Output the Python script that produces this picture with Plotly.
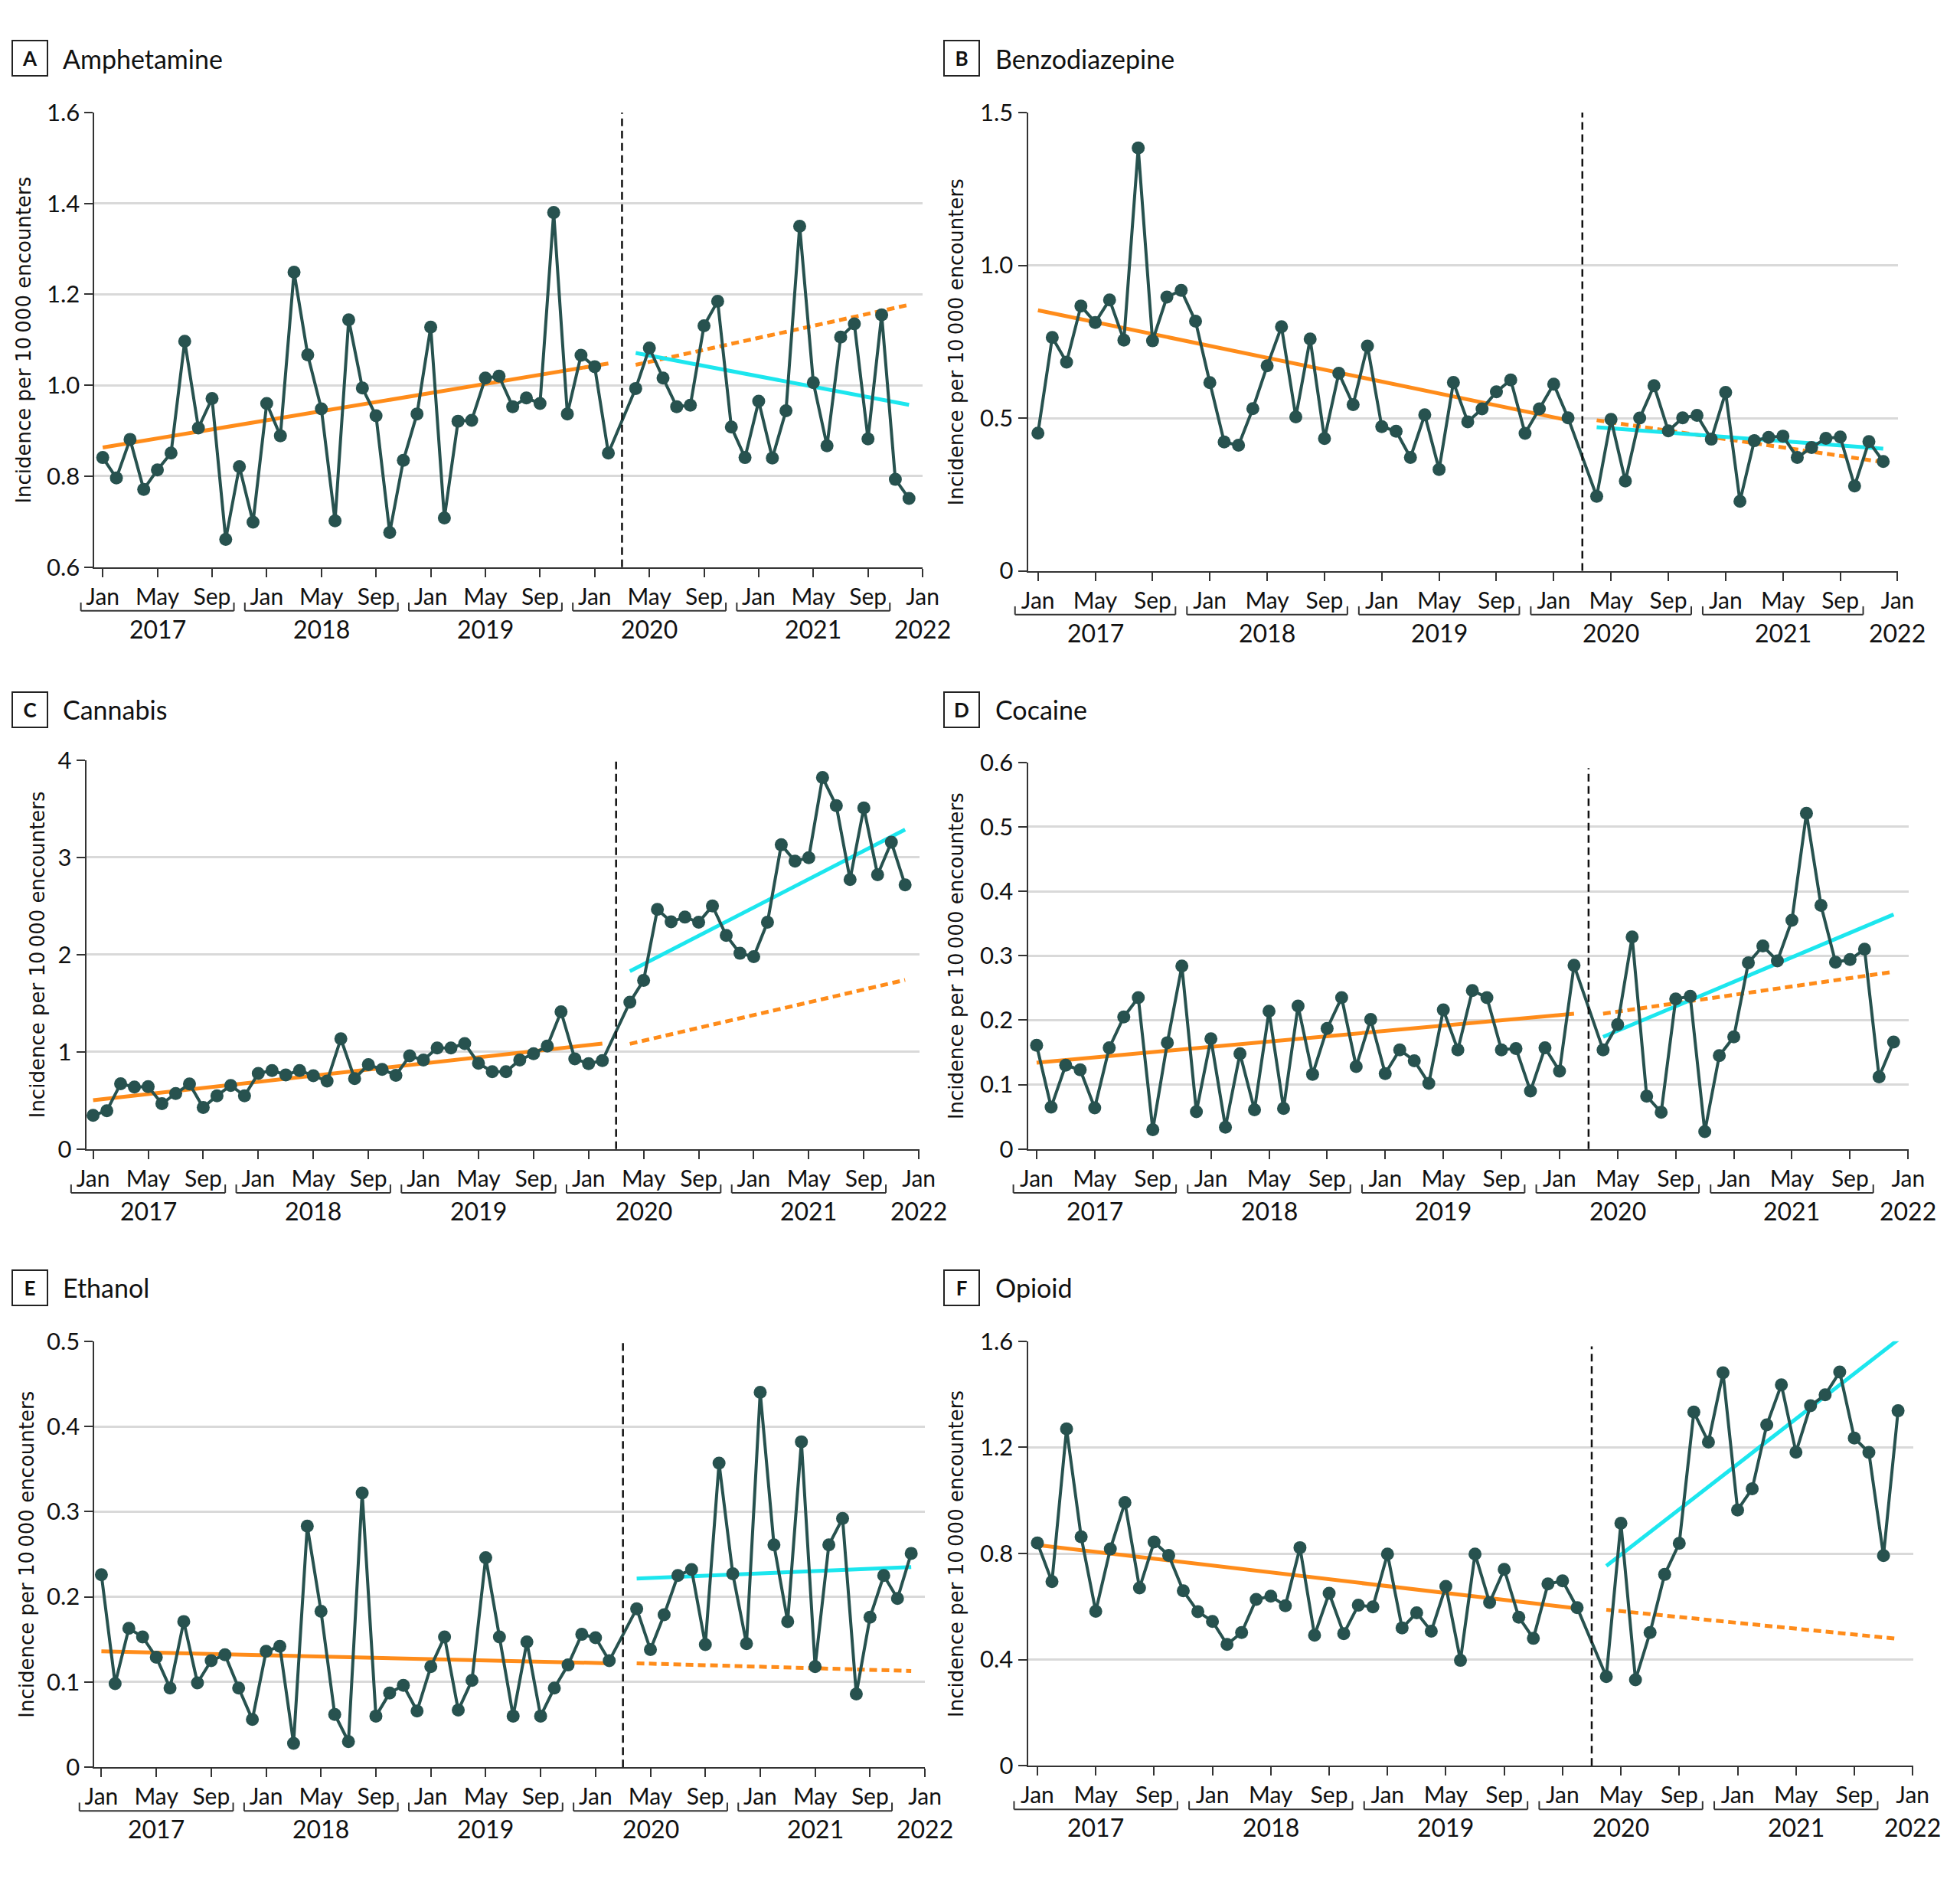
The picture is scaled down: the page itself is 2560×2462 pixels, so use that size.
import plotly.graph_objects as go
from plotly.subplots import make_subplots

# month index 0 = Jan 2017 ... 59 = Dec 2021; March 2020 (38) left out
months = list(range(60))
tick_vals = list(range(0, 61, 4))
tick_text = ["Jan", "May", "Sep"] * 5 + ["Jan"]
years = ["2017", "2018", "2019", "2020", "2021"]

amphetamine = [0.841, 0.796, 0.881, 0.771, 0.814, 0.851, 1.097, 0.906, 0.971, 0.661, 0.821, 0.699,
               0.960, 0.889, 1.249, 1.067, 0.948, 0.702, 1.144, 0.994, 0.933, 0.676, 0.835, 0.937,
               1.128, 0.708, 0.921, 0.923, 1.016, 1.020, 0.953, 0.972, 0.960, 1.380, 0.937, 1.066,
               1.041, 0.851, None, 0.993, 1.082, 1.016, 0.953, 0.956, 1.131, 1.185, 0.908, 0.841,
               0.965, 0.840, 0.944, 1.350, 1.006, 0.867, 1.106, 1.135, 0.882, 1.155, 0.793, 0.751]
benzodiazepine = [0.451, 0.764, 0.683, 0.867, 0.813, 0.887, 0.755, 1.384, 0.753, 0.896, 0.918, 0.817,
                  0.616, 0.422, 0.411, 0.531, 0.671, 0.799, 0.504, 0.759, 0.433, 0.647, 0.544, 0.736,
                  0.472, 0.457, 0.371, 0.511, 0.332, 0.617, 0.488, 0.530, 0.586, 0.625, 0.450, 0.530,
                  0.611, 0.501, None, 0.244, 0.496, 0.294, 0.500, 0.606, 0.458, 0.501, 0.509, 0.431,
                  0.584, 0.228, 0.426, 0.437, 0.441, 0.371, 0.404, 0.434, 0.438, 0.278, 0.423, 0.358]
cannabis = [0.346, 0.394, 0.672, 0.638, 0.642, 0.466, 0.571, 0.669, 0.428, 0.548, 0.654, 0.548,
            0.777, 0.808, 0.762, 0.808, 0.755, 0.699, 1.134, 0.725, 0.868, 0.819, 0.759, 0.958,
            0.916, 1.040, 1.040, 1.085, 0.883, 0.796, 0.796, 0.916, 0.980, 1.059, 1.412, 0.928,
            0.879, 0.909, None, 1.510, 1.735, 2.464, 2.336, 2.385, 2.332, 2.501, 2.197, 2.013,
            1.979, 2.332, 3.129, 2.960, 2.997, 3.820, 3.531, 2.772, 3.508, 2.821, 3.155, 2.716]
cocaine = [0.161, 0.065, 0.130, 0.123, 0.064, 0.157, 0.205, 0.235, 0.030, 0.165, 0.284, 0.058,
           0.171, 0.034, 0.148, 0.061, 0.214, 0.063, 0.222, 0.116, 0.187, 0.235, 0.128, 0.201,
           0.117, 0.154, 0.137, 0.102, 0.216, 0.154, 0.246, 0.235, 0.154, 0.156, 0.090, 0.157,
           0.121, 0.285, None, 0.154, 0.193, 0.329, 0.082, 0.057, 0.233, 0.237, 0.027, 0.145,
           0.174, 0.289, 0.315, 0.292, 0.355, 0.521, 0.378, 0.290, 0.294, 0.310, 0.112, 0.166]
ethanol = [0.226, 0.098, 0.163, 0.153, 0.129, 0.093, 0.171, 0.099, 0.125, 0.132, 0.093, 0.056,
           0.136, 0.142, 0.028, 0.283, 0.183, 0.062, 0.030, 0.322, 0.060, 0.087, 0.096, 0.066,
           0.118, 0.153, 0.067, 0.102, 0.246, 0.153, 0.060, 0.147, 0.060, 0.093, 0.120, 0.156,
           0.152, 0.125, None, 0.186, 0.138, 0.179, 0.225, 0.232, 0.144, 0.357, 0.227, 0.145,
           0.440, 0.261, 0.171, 0.382, 0.118, 0.261, 0.292, 0.086, 0.176, 0.225, 0.198, 0.251]
opioid = [0.840, 0.694, 1.270, 0.863, 0.582, 0.817, 0.992, 0.670, 0.843, 0.793, 0.659, 0.581,
          0.544, 0.457, 0.502, 0.627, 0.639, 0.603, 0.822, 0.492, 0.650, 0.498, 0.605, 0.599,
          0.798, 0.519, 0.576, 0.507, 0.676, 0.397, 0.798, 0.615, 0.740, 0.560, 0.480, 0.685,
          0.697, 0.596, None, 0.336, 0.914, 0.324, 0.502, 0.721, 0.838, 1.333, 1.220, 1.481,
          0.964, 1.044, 1.285, 1.436, 1.182, 1.357, 1.398, 1.484, 1.235, 1.181, 0.792, 1.338]

# fitted segments: value at start and end month
pre_months = [0, 37]
post_months = [39, 59]
amph_pre, amph_cf, amph_post = [0.863, 1.048], [1.045, 1.177], [1.071, 0.957]
benz_pre, benz_cf, benz_post = [0.853, 0.493], [0.493, 0.356], [0.470, 0.400]
cann_pre, cann_cf, cann_post = [0.503, 1.085], [1.082, 1.739], [1.829, 3.286]
coca_pre, coca_cf, coca_post = [0.134, 0.210], [0.210, 0.275], [0.174, 0.364]
etha_pre, etha_cf, etha_post = [0.136, 0.122], [0.122, 0.113], [0.2215, 0.235]
opio_pre, opio_cf, opio_post = [0.832, 0.593], [0.588, 0.478], [0.753, 1.606]

W, H = 2560, 2462
DATA_C = "#27524f"
ORANGE = "#ff8c1a"
CYAN = "#1ce6ee"
FONT = "Lato"

panels = [
    dict(letter="A", name="Amphetamine", y=amphetamine, pre=amph_pre, cf=amph_cf, post=amph_post,
         yrange=[0.6, 1.6], yt=[0.6, 0.8, 1.0, 1.2, 1.4, 1.6], ytt=["0.6", "0.8", "1.0", "1.2", "1.4", "1.6"],
         box=(112, 1209, 129, 732), x0=-0.6, head=(2, 68, 57), ytitle_x=18, vtop=1),
    dict(letter="B", name="Benzodiazepine", y=benzodiazepine, pre=benz_pre, cf=benz_cf, post=benz_post,
         yrange=[0, 1.5], yt=[0, 0.5, 1.0, 1.5], ytt=["0", "0.5", "1.0", "1.5"],
         box=(1348, 2500, 129, 737), x0=-0.7, head=(1236, 1303, 57), ytitle_x=1253, vtop=1),
    dict(letter="C", name="Cannabis", y=cannabis, pre=cann_pre, cf=cann_cf, post=cann_post,
         yrange=[0, 4], yt=[0, 1, 2, 3, 4], ytt=["0", "1", "2", "3", "4"],
         box=(101, 1204, 988, 1504), x0=-0.5, head=(2, 68, 921), ytitle_x=36, vtop=1),
    dict(letter="D", name="Cocaine", y=cocaine, pre=coca_pre, cf=coca_cf, post=coca_post,
         yrange=[0, 0.6], yt=[0, 0.1, 0.2, 0.3, 0.4, 0.5, 0.6],
         ytt=["0", "0.1", "0.2", "0.3", "0.4", "0.5", "0.6"],
         box=(1348, 2514, 991, 1504), x0=-0.6, head=(1236, 1303, 921), ytitle_x=1253, vtop=0.985),
    dict(letter="E", name="Ethanol", y=ethanol, pre=etha_pre, cf=etha_cf, post=etha_post,
         yrange=[0, 0.5], yt=[0, 0.1, 0.2, 0.3, 0.4, 0.5], ytt=["0", "0.1", "0.2", "0.3", "0.4", "0.5"],
         box=(112, 1212, 1759, 2324), x0=-0.5, head=(2, 68, 1688), ytitle_x=22, vtop=1),
    dict(letter="F", name="Opioid", y=opioid, pre=opio_pre, cf=opio_cf, post=opio_post,
         yrange=[0, 1.6], yt=[0, 0.4, 0.8, 1.2, 1.6], ytt=["0", "0.4", "0.8", "1.2", "1.6"],
         box=(1348, 2520, 1759, 2322), x0=-0.65, head=(1236, 1303, 1688), ytitle_x=1253, vtop=0.988),
]

fig = make_subplots(rows=3, cols=2)
shapes = []
annotations = []

for i, p in enumerate(panels):
    row, col = i // 2 + 1, i % 2 + 1
    n = "" if i == 0 else str(i + 1)
    xa, ya = "x" + n, "y" + n

    fig.add_trace(go.Scatter(x=pre_months, y=p["pre"], mode="lines",
                             line=dict(color=ORANGE, width=5)), row=row, col=col)
    fig.add_trace(go.Scatter(x=post_months, y=p["cf"], mode="lines",
                             line=dict(color=ORANGE, width=5, dash="10px,6px")), row=row, col=col)
    fig.add_trace(go.Scatter(x=post_months, y=p["post"], mode="lines",
                             line=dict(color=CYAN, width=5)), row=row, col=col)
    fig.add_trace(go.Scatter(x=months, y=p["y"], mode="lines+markers", connectgaps=True,
                             line=dict(color=DATA_C, width=4),
                             marker=dict(color=DATA_C, size=17)), row=row, col=col)

    left, right, top, bottom = p["box"]
    r0, r1 = p["x0"], 60.02
    fig.layout["xaxis" + n].update(
        domain=[left / W, right / W], range=[r0, r1], tickvals=tick_vals, ticktext=tick_text,
        showgrid=False, zeroline=False, showline=True, linecolor="#333", linewidth=2,
        ticks="outside", ticklen=11, tickwidth=2, tickcolor="#333",
        tickfont=dict(family=FONT, size=30, color="#111"))
    fig.layout["yaxis" + n].update(
        domain=[1 - bottom / H, 1 - top / H], range=p["yrange"], tickvals=p["yt"], ticktext=p["ytt"],
        showgrid=True, gridcolor="#d9d9d9", gridwidth=3, zeroline=False,
        showline=True, linecolor="#333", linewidth=2,
        ticks="outside", ticklen=11, tickwidth=2, tickcolor="#333",
        tickfont=dict(family=FONT, size=31, color="#111"))

    # interruption line (March 2020)
    shapes.append(dict(type="line", xref=xa, yref=ya + " domain", x0=38, x1=38, y0=0, y1=p["vtop"],
                       line=dict(color="#111", width=2.5, dash="10px,6px")))

    # year brackets
    ybot = 1 - bottom / H
    yb = ybot - 58 / H
    yt_ = ybot - 47 / H
    for k, yr in enumerate(years):
        c = 12 * k + 4
        a = (c - 5.6 - r0) / (r1 - r0)
        b = (c + 5.6 - r0) / (r1 - r0)
        for seg in [(a, yb, b, yb), (a, yb, a, yt_), (b, yb, b, yt_)]:
            shapes.append(dict(type="line", xref=xa + " domain", yref="paper",
                               x0=seg[0], y0=seg[1], x1=seg[2], y1=seg[3],
                               line=dict(color="#333", width=2)))
        annotations.append(dict(text=yr, x=c, xref=xa, y=ybot - 82 / H, yref="paper",
                                showarrow=False, xanchor="center", yanchor="middle",
                                font=dict(family=FONT, size=32, color="#111")))
    annotations.append(dict(text="2022", x=60, xref=xa, y=ybot - 82 / H, yref="paper",
                            showarrow=False, xanchor="center", yanchor="middle",
                            font=dict(family=FONT, size=32, color="#111")))

    # panel heading
    bx, tx, hy = p["head"]
    annotations.append(dict(text="<b>" + p["letter"] + "</b>", x=bx / W, y=1 - hy / H,
                            xref="paper", yref="paper", showarrow=False,
                            xanchor="left", yanchor="middle", width=44, height=44,
                            bordercolor="#222", borderwidth=2, borderpad=0,
                            font=dict(family=FONT, size=26, color="#111")))
    annotations.append(dict(text=p["name"], x=tx / W, y=1 - hy / H,
                            xref="paper", yref="paper", showarrow=False,
                            xanchor="left", yanchor="middle",
                            font=dict(family=FONT, size=34, color="#111")))

    # y-axis title
    annotations.append(dict(text="Incidence per 10\u2009000 encounters", textangle=-90,
                            x=p["ytitle_x"] / W, y=1 - (top + bottom) / 2 / H,
                            xref="paper", yref="paper", showarrow=False,
                            xanchor="center", yanchor="middle",
                            font=dict(family="DejaVu Sans", size=26, color="#111")))

fig.update_layout(
    width=W, height=H, margin=dict(l=0, r=0, t=0, b=0),
    showlegend=False, plot_bgcolor="white", paper_bgcolor="white",
    shapes=shapes, annotations=annotations,
)

fig.write_html("out.html", config={"displayModeBar": False},
               post_script="document.body.style.margin='0';")
